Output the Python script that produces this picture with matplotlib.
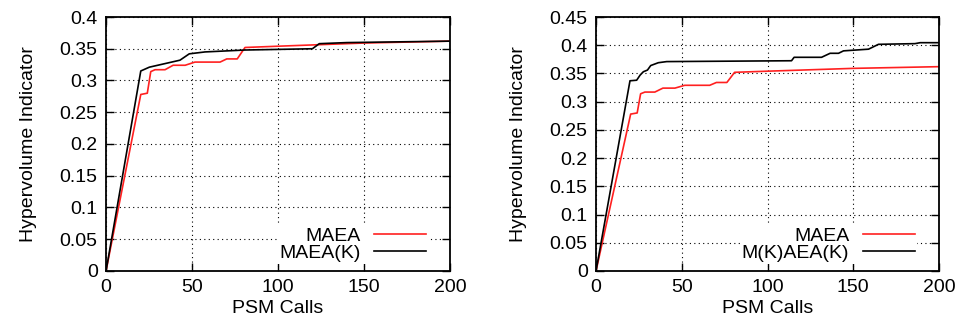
import numpy as np
import matplotlib

matplotlib.use("Agg")
import matplotlib.pyplot as plt

plt.rcParams["font.family"] = ["Liberation Sans", "DejaVu Sans"]

# MAEA (same run in both panels)
maea_x = [0, 20.2, 24, 26, 28.5, 34.3, 39, 46, 51.7, 66.3, 70.2, 76.3, 80.8, 100, 150, 200]
maea_y = [0, 0.278, 0.28, 0.314, 0.317, 0.317, 0.324, 0.324, 0.329, 0.329, 0.334, 0.334,
          0.352, 0.354, 0.359, 0.362]

# MAEA(K), left panel
maeak_x = [0, 20.2, 25.2, 43, 48.4, 57.6, 80.8, 120, 124, 140, 200]
maeak_y = [0, 0.315, 0.321, 0.332, 0.342, 0.345, 0.348, 0.350, 0.358, 0.3597, 0.362]

# M(K)AEA(K), right panel
mkaeak_x = [0, 19.8, 23.7, 25.7, 27.6, 30, 31.9, 36.3, 41.2, 114, 115.5, 131.5, 136.5,
            141.4, 144.3, 158.9, 164.7, 186, 189, 200]
mkaeak_y = [0, 0.337, 0.338, 0.347, 0.353, 0.356, 0.364, 0.369, 0.371, 0.3725, 0.3786,
            0.3786, 0.3857, 0.3857, 0.39, 0.393, 0.4016, 0.4028, 0.4045, 0.4045]

x_ticks = [0, 50, 100, 150, 200]
y_ticks_left = np.arange(0, 0.401, 0.05)
y_ticks_right = np.arange(0, 0.451, 0.05)

FS = 14


def fmt(v):
    return f"{v:.2f}".rstrip("0").rstrip(".")


def style_axes(ax, yticks, ymax):
    ax.set_xlim(0, 200)
    ax.set_ylim(0, ymax)
    ax.set_xticks(x_ticks)
    ax.set_yticks(yticks)
    ax.set_yticklabels([fmt(v) for v in yticks])
    ax.tick_params(direction="in", length=6, width=1, top=True, right=True,
                   labelsize=FS, pad=6)
    ax.grid(True, color="black", linestyle=(0, (1, 3)), linewidth=0.8)
    for s in ax.spines.values():
        s.set_linewidth(1.3)
    ax.set_xlabel("PSM Calls", fontsize=FS, labelpad=3)
    ax.set_ylabel("Hypervolume Indicator", fontsize=FS, labelpad=16)


fig = plt.figure(figsize=(9.57, 3.27), dpi=100)
ax1 = fig.add_axes([0.1108, 0.1713, 0.3594, 0.7767])
ax2 = fig.add_axes([0.6228, 0.1713, 0.3584, 0.7767])

ax1.plot(maea_x, maea_y, color="#ff2020", lw=1.2, label="MAEA")
ax1.plot(maeak_x, maeak_y, color="black", lw=1.2, label="MAEA(K)")
style_axes(ax1, y_ticks_left, 0.4)

ax2.plot(maea_x, maea_y, color="#ff2020", lw=1.2, label="MAEA")
ax2.plot(mkaeak_x, mkaeak_y, color="black", lw=1.2, label="M(K)AEA(K)")
style_axes(ax2, y_ticks_right, 0.45)

for ax in (ax1, ax2):
    leg = ax.legend(loc="lower right", bbox_to_anchor=(0.937, 0.027), borderaxespad=0,
                    markerfirst=False, fontsize=FS, handlelength=2.7,
                    handletextpad=0.7, labelspacing=0.0, borderpad=0.1,
                    fancybox=False, framealpha=1)
    leg.get_frame().set_linewidth(0)
    for t in leg.get_texts():
        t.set_ha("right")

fig.savefig("out.png", dpi=100)
